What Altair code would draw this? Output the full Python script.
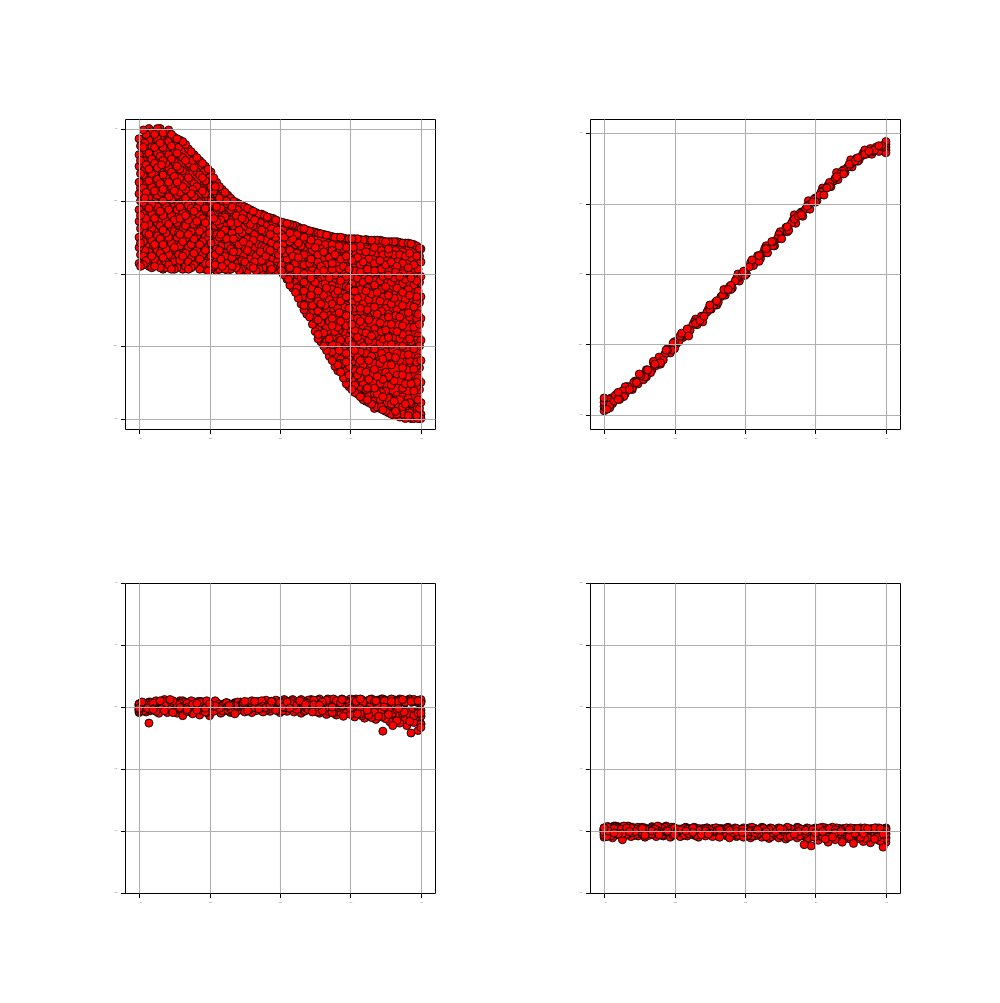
import altair as alt
import pandas as pd

P1_BAND_X = [-1,-.9,-.8,-.7,-.6,-.5,-.4,-.3,-.2,-.1,0,.05,.1,.2,.3,.4,.5,.6,.7,.8,.9,1]
P1_BAND_TOP = [.93,1,.98,.92,.815,.7,.575,.49,.435,.395,.36,.345,.333,.3,.27,.25,.243,.236,.23,.223,.21,.17]
P1_BAND_BOTTOM = [.065,.055,.045,.035,.03,.025,.022,.02,.02,.025,.03,-.02,-.11,-.3,-.49,-.645,-.785,-.87,-.92,-.97,-.99,-1]

P1_COLUMNS = [
 (-1.0,[.93,.82,.74,.63,.55,.44,.36,.25,.18,.07]),
 (-.97,[.99,.87,.78,.68,.59,.49,.41,.31,.22,.12,.06]),
 (-.93,[1.0,.92,.83,.72,.64,.52,.45,.34,.27,.15,.05]),
 (-.89,[.96,.87,.76,.69,.57,.5,.38,.29,.2,.1,.05]),
 (-.85,[1.0,.9,.81,.71,.62,.53,.43,.33,.24,.14,.04]),
 (-.81,[.97,.85,.76,.66,.55,.47,.36,.28,.17,.08,.04]),
 (-.77,[.96,.88,.79,.7,.6,.51,.4,.31,.21,.11,.03]),
 (-.73,[.93,.83,.74,.63,.54,.44,.35,.25,.15,.04]),
 (-.69,[.91,.8,.71,.6,.5,.42,.3,.22,.12,.03]),
 (-.65,[.86,.76,.66,.57,.47,.37,.27,.18,.08,.03]),
 (-.61,[.82,.73,.62,.53,.43,.34,.24,.14,.06]),
 (-.57,[.78,.68,.59,.49,.4,.29,.2,.1,.03]),
 (-.53,[.74,.64,.55,.45,.35,.26,.16,.07,.03]),
 (-.49,[.7,.6,.5,.41,.31,.21,.12,.03]),
 (-.45,[.63,.55,.46,.36,.27,.17,.09,.02]),
 (-.41,[.58,.5,.41,.32,.23,.14,.05]),
 (-.37,[.54,.46,.38,.28,.19,.1,.02]),
 (-.33,[.5,.42,.33,.24,.15,.06]),
 (-.29,[.48,.39,.3,.2,.11,.02]),
 (-.25,[.46,.37,.27,.18,.08,.02]),
 (-.21,[.44,.34,.25,.14,.05]),
 (-.17,[.42,.32,.22,.12,.02]),
 (-.13,[.41,.3,.19,.09,.02]),
 (-.09,[.39,.28,.17,.07]),
 (-.05,[.38,.26,.15,.04]),
 (-.01,[.36,.24,.13,.03]),
 (.03,[.35,.25,.14,.03,-.01]),
 (.07,[.34,.22,.1,-.02,-.08]),
 (.11,[.33,.2,.07,-.05,-.13]),
 (.15,[.31,.19,.09,-.03,-.12,-.21]),
 (.19,[.3,.17,.05,-.08,-.19,-.28]),
 (.23,[.29,.16,.04,-.1,-.22,-.35]),
 (.27,[.28,.13,.01,-.12,-.26,-.38,-.45]),
 (.31,[.27,.15,.02,-.15,-.29,-.41,-.5]),
 (.35,[.26,.11,-.03,-.18,-.33,-.45,-.57]),
 (.39,[.25,.13,-.01,-.14,-.27,-.4,-.52,-.64]),
 (.43,[.25,.1,-.05,-.19,-.33,-.46,-.59,-.68]),
 (.47,[.24,.12,-.02,-.16,-.29,-.43,-.55,-.67,-.76]),
 (.51,[.24,.09,-.07,-.2,-.35,-.49,-.61,-.73,-.8]),
 (.55,[.24,.11,-.03,-.17,-.31,-.44,-.58,-.7,-.83]),
 (.59,[.23,.08,-.06,-.21,-.36,-.5,-.63,-.76,-.87]),
 (.63,[.23,.1,-.04,-.18,-.32,-.46,-.6,-.73,-.84,-.89]),
 (.67,[.23,.07,-.08,-.23,-.38,-.52,-.66,-.79,-.91]),
 (.71,[.23,.09,-.05,-.19,-.34,-.48,-.62,-.76,-.87,-.93]),
 (.75,[.22,.06,-.09,-.24,-.39,-.54,-.68,-.81,-.95]),
 (.79,[.22,.08,-.06,-.21,-.35,-.49,-.63,-.77,-.9,-.97]),
 (.83,[.22,.05,-.1,-.25,-.4,-.55,-.7,-.84,-.97]),
 (.87,[.21,.07,-.07,-.22,-.36,-.5,-.65,-.79,-.92,-.99]),
 (.91,[.21,.04,-.11,-.27,-.42,-.56,-.71,-.86,-.98]),
 (.95,[.2,.06,-.08,-.23,-.37,-.52,-.66,-.81,-.94,-1.0]),
 (.98,[.18,.03,-.12,-.28,-.43,-.58,-.72,-.87,-1.0]),
 (1.0,[.17,.08,-.02,-.16,-.31,-.46,-.6,-.75,-.89,-.97,-1.0]),
]

P1_COLUMNS_B = [
 (-.99,[.88,.78,.69,.59,.5,.4,.31,.21,.13,.05]),
 (-.95,[.96,.85,.75,.66,.56,.47,.38,.28,.19,.09]),
 (-.91,[.98,.88,.79,.69,.6,.48,.41,.31,.23,.12,.04]),
 (-.87,[1.0,.93,.83,.73,.65,.54,.46,.35,.26,.16,.07]),
 (-.83,[.97,.87,.78,.68,.58,.5,.4,.3,.2,.11,.03]),
 (-.79,[.99,.91,.82,.73,.63,.53,.44,.34,.25,.13,.06]),
 (-.75,[.94,.85,.77,.67,.57,.48,.37,.29,.18,.08,.03]),
 (-.71,[.92,.81,.72,.66,.56,.46,.38,.27,.19,.09]),
 (-.67,[.89,.78,.69,.58,.52,.4,.33,.24,.14,.05]),
 (-.63,[.84,.74,.64,.55,.45,.39,.29,.2,.11,.04]),
 (-.59,[.8,.7,.6,.51,.45,.36,.26,.16,.08]),
 (-.55,[.76,.66,.57,.47,.38,.31,.22,.13,.05]),
 (-.51,[.72,.62,.52,.43,.33,.24,.18,.09,.02]),
 (-.47,[.66,.57,.48,.38,.29,.19,.1,.05]),
 (-.43,[.6,.52,.44,.34,.25,.16,.07,.03]),
 (-.39,[.56,.48,.39,.3,.21,.12,.03]),
 (-.35,[.52,.44,.35,.26,.17,.08,.03]),
 (-.31,[.49,.4,.31,.22,.13,.04]),
 (-.27,[.47,.38,.28,.16,.09,.03]),
 (-.23,[.45,.35,.24,.16,.06,.02]),
 (-.19,[.43,.33,.23,.13,.04]),
 (-.15,[.41,.31,.2,.1,.03]),
 (-.11,[.4,.29,.18,.08,.02]),
 (-.07,[.385,.27,.16,.06,.02]),
 (-.03,[.37,.25,.14,.05]),
 (.01,[.355,.27,.16,.06,.02]),
 (.05,[.345,.22,.1,.01,-.04]),
 (.09,[.335,.24,.12,-.01,-.1]),
 (.13,[.32,.21,.11,-.01,-.09,-.17]),
 (.17,[.31,.18,.06,-.06,-.16,-.25]),
 (.21,[.295,.2,.07,-.05,-.17,-.3]),
 (.25,[.285,.18,.07,-.06,-.19,-.31,-.4]),
 (.29,[.275,.17,.05,-.08,-.21,-.34,-.47]),
 (.33,[.265,.14,0,-.1,-.24,-.37,-.47,-.53]),
 (.37,[.255,.16,.03,-.11,-.24,-.36,-.49,-.6]),
 (.41,[.25,.12,.02,-.12,-.24,-.37,-.5,-.63,-.67]),
 (.45,[.245,.17,.05,-.09,-.12,-.23,-.36,-.4,-.52,-.62,-.72]),
 (.49,[.24,.16,.03,-.1,-.24,-.38,-.46,-.58,-.64,-.7,-.78]),
 (.53,[.24,.15,.02,-.12,-.26,-.39,-.53,-.66,-.77,-.82]),
 (.57,[.235,.16,.01,-.11,-.26,-.4,-.54,-.67,-.8,-.85]),
 (.61,[.235,.15,.03,-.12,-.26,-.41,-.55,-.68,-.8,-.88]),
 (.65,[.23,.15,0,-.14,-.29,-.43,-.57,-.7,-.82,-.9]),
 (.69,[.23,.14,.01,-.13,-.28,-.43,-.57,-.71,-.83,-.92]),
 (.73,[.225,.13,-.02,-.16,-.31,-.45,-.59,-.73,-.85,-.94]),
 (.77,[.22,.14,-.01,-.15,-.3,-.44,-.58,-.72,-.86,-.96]),
 (.81,[.22,.13,-.03,-.17,-.31,-.46,-.6,-.74,-.88,-.98]),
 (.85,[.215,.13,-.02,-.16,-.3,-.45,-.6,-.74,-.87,-.99]),
 (.89,[.21,.12,-.04,-.18,-.33,-.47,-.61,-.76,-.9,-1.0]),
 (.93,[.205,.11,-.03,-.17,-.32,-.47,-.62,-.76,-.9,-1.0]),
 (.97,[.19,.1,-.05,-.19,-.34,-.49,-.64,-.78,-.92,-.98]),
 (.99,[.175,.12,-.06,-.2,-.35,-.5,-.65,-.8,-.93,-1.0]),
]

P1_COLUMNS_C = [
 (.07,[.28,.16,.04,-.05]),
 (.12,[.27,.14,.02,-.1]),
 (.17,[.25,.13,0,-.12,-.22]),
 (.22,[.23,.1,-.03,-.15,-.27]),
 (.27,[.21,.08,-.05,-.19,-.32,-.42]),
 (.32,[.2,.06,-.07,-.22,-.35,-.48]),
 (.37,[.2,.07,-.08,-.21,-.31,-.44,-.54]),
 (.42,[.19,.03,-.09,-.27,-.39,-.53,-.62]),
 (.47,[.18,.05,-.09,-.22,-.36,-.49,-.61,-.72]),
 (.52,[.18,.04,-.12,-.24,-.42,-.55,-.67,-.78]),
 (.57,[.19,.06,-.08,-.24,-.33,-.47,-.6,-.72,-.84]),
 (.62,[.17,.03,-.1,-.25,-.39,-.53,-.67,-.79,-.87]),
 (.67,[.18,.02,-.12,-.27,-.42,-.56,-.7,-.83,-.93]),
 (.72,[.16,.03,-.11,-.26,-.4,-.55,-.69,-.82,-.92]),
 (.77,[.17,.02,-.13,-.28,-.43,-.57,-.71,-.85,-.94]),
 (.82,[.16,.01,-.14,-.29,-.44,-.58,-.73,-.87,-.95]),
 (.87,[.15,0,-.13,-.28,-.42,-.56,-.7,-.85,-.97]),
 (.92,[.14,-.01,-.15,-.3,-.45,-.6,-.74,-.89,-.96]),
 (.97,[.12,-.02,-.16,-.31,-.46,-.61,-.75,-.9,-.99]),
]

P1_COLUMNS_D = [
 (-.96,[.9,.72,.52,.33,.16]),
 (-.84,[.95,.75,.56,.37,.16]),
 (-.72,[.87,.68,.48,.28,.13]),
 (-.62,[.78,.58,.38,.21,.09]),
 (-.54,[.7,.61,.5,.42,.32,.21,.11]),
 (-.5,[.66,.56,.47,.37,.28,.15,.07]),
 (-.46,[.6,.5,.42,.33,.22,.13,.06]),
 (-.42,[.54,.45,.37,.27,.19,.1]),
 (-.38,[.5,.41,.33,.24,.14,.07]),
 (-.34,[.46,.37,.28,.2,.11,.05]),
 (-.3,[.44,.35,.25,.15,.07]),
 (-.26,[.41,.32,.22,.12,.05]),
 (-.22,[.39,.3,.2,.1,.04]),
 (-.18,[.37,.27,.18,.08]),
 (-.14,[.35,.24,.15,.05]),
 (-.1,[.33,.23,.12,.04]),
 (-.06,[.31,.21,.1,.03]),
 (-.02,[.3,.19,.08,.02]),
 (.02,[.3,.2,.09,0]),
 (.06,[.28,.17,.05,-.04]),
]

P2_X = [-1,-1,-1,-1,-.98,-.98,-.96,-.95,-.93,-.91,-.89,-.87,-.85,-.83,-.8,-.78,-.76,-.73,-.71,-.69,-.66,-.64,-.62,-.6,-.57,-.55,-.52,-.5,-.47,-.45,-.42,-.4,-.37,-.35,-.32,-.3,-.27,-.25,-.22,-.2,-.17,-.15,-.12,-.1,-.07,-.05,-.02,0,.03,.05,.08,.1,.13,.15,.18,.2,.23,.25,.28,.3,.33,.35,.38,.4,.43,.45,.48,.5,.53,.55,.58,.6,.63,.65,.68,.7,.73,.75,.78,.8,.83,.85,.88,.9,.92,.94,.96,.98,1,1,1,1]
P2_Y = [-.97,-.94,-.91,-.88,-.96,-.9,-.93,-.88,-.9,-.87,-.89,-.83,-.85,-.8,-.81,-.76,-.78,-.72,-.73,-.68,-.68,-.64,-.62,-.63,-.57,-.54,-.54,-.48,-.48,-.44,-.42,-.39,-.36,-.35,-.33,-.3,-.27,-.25,-.22,-.19,-.16,-.14,-.11,-.08,-.05,-.03,0,.02,.05,.08,.1,.13,.15,.18,.2,.23,.25,.28,.3,.335,.36,.39,.41,.44,.46,.49,.51,.54,.56,.59,.61,.65,.66,.69,.71,.74,.76,.78,.8,.825,.84,.85,.87,.875,.88,.89,.88,.9,.86,.88,.9,.92]
P2_X2 = [-.99,-.97,-.94,-.92,-.9,-.88,-.86,-.84,-.82,-.79,-.77,-.74,-.72,-.7,-.67,-.65,-.63,-.61,-.58,-.56,-.53,-.51,-.49,-.46,-.44,-.41,-.39,-.36,-.34,-.31,-.29,-.26,-.24,-.21,-.19,-.16,-.14,-.11,-.09,-.06,-.04,-.01,.01,.04,.06,.09,.11,.14,.16,.19,.21,.24,.26,.29,.31,.34,.36,.39,.41,.44,.46,.49,.51,.54,.56,.59,.61,.64,.66,.69,.71,.74,.76,.79,.81,.84,.86,.89,.91,.93,.95,.97,.99,1]
P2_Y2 = [-.95,-.89,-.92,-.86,-.89,-.84,-.87,-.8,-.82,-.77,-.77,-.72,-.75,-.68,-.7,-.63,-.65,-.59,-.61,-.54,-.56,-.49,-.5,-.44,-.45,-.39,-.4,-.34,-.36,-.3,-.3,-.25,-.25,-.2,-.2,-.15,-.15,-.09,-.1,-.03,-.05,.02,0,.08,.06,.13,.11,.18,.15,.23,.2,.28,.25,.33,.31,.38,.36,.43,.41,.48,.46,.53,.52,.58,.56,.63,.62,.68,.67,.73,.72,.78,.76,.82,.81,.86,.85,.89,.87,.9,.87,.91,.87,.94]
P2_X3 = [-.96,-.9,-.85,-.8,-.75,-.7,-.65,-.6,-.55,-.5,-.45,-.4,-.35,-.3,-.25,-.2,-.15,-.1,-.05,0,.05,.1,.15,.2,.25,.3,.35,.4,.45,.5,.55,.6,.65,.7,.75,.8,.85,.9,.95]
P2_Y3 = [-.95,-.84,-.8,-.82,-.71,-.73,-.62,-.64,-.53,-.53,-.42,-.44,-.32,-.34,-.22,-.22,-.11,-.11,0,-.01,.1,.09,.2,.2,.3,.3,.42,.42,.52,.51,.61,.62,.72,.71,.81,.8,.88,.85,.91]

P3_X = [-1,-1,-.97,-.97,-.95,-.93,-.93,-.9,-.88,-.86,-.84,-.82,-.8,-.78,-.76,-.73,-.71,-.69,-.66,-.64,-.62,-.59,-.57,-.55,-.52,-.5,-.47,-.45,-.42,-.4,-.37,-.35,-.32,-.3,-.27,-.25,-.22,-.2,-.17,-.15,-.12,-.1,-.07,-.05,-.02,0,.03,.05,.08,.1,.13,.15,.18,.2,.23,.25,.28,.3,.33,.35,.38,.4,.43,.45,.48,.5,.53,.55,.58,.6,.63,.65,.68,.7,.73,.75,.78,.8,.83,.85,.88,.9,.93,.95,.98,1,1]
P3_UP = [.05,.02,.07,.01,.06,.08,.03,.05,.1,.06,.09,.12,.07,.05,.1,.04,.06,.1,.07,.03,.09,.06,.08,.04,.1,.05,.03,.07,.02,.05,.06,.03,.07,.08,.05,.09,.06,.1,.07,.04,.09,.11,.06,.08,.1,.07,.12,.08,.1,.06,.09,.12,.08,.11,.07,.1,.13,.08,.11,.09,.13,.1,.07,.11,.09,.13,.1,.08,.12,.09,.11,.13,.1,.08,.13,.11,.09,.12,.1,.13,.08,.11,.09,.12,.1,.07,.09]
P3_LOW = [-.09,-.04,-.06,-.03,-.08,-.26,-.05,-.04,-.07,-.1,-.03,-.06,-.09,-.05,-.03,-.1,-.06,-.14,-.04,-.08,-.11,-.05,-.13,-.06,-.09,-.14,-.07,-.04,-.1,-.07,-.05,-.09,-.11,-.06,-.04,-.08,-.05,-.09,-.06,-.03,-.08,-.05,-.07,-.03,-.06,-.09,-.05,-.07,-.04,-.08,-.05,-.1,-.06,-.04,-.08,-.07,-.1,-.06,-.12,-.08,-.1,-.13,-.09,-.15,-.1,-.12,-.16,-.11,-.14,-.18,-.13,-.17,-.2,-.15,-.39,-.19,-.24,-.3,-.22,-.26,-.2,-.3,-.42,-.25,-.38,-.28,-.33]
P3_MID = [-.02,-.05,0,.03,-.02,-.04,.02,-.03,0,.03,-.01,.02,-.02,.01,-.03,.02,-.01,.03,-.03,.01,.04,-.02,.01,-.01,.02,-.03,.01,-.02,.02,-.01,.01,-.03,.02,0,.03,-.01,.02,0,-.02,.03,.01,-.01,.02,0,.03,.01,-.01,.03,0,.02,-.02,.01,.04,0,.02,-.02,.03,0,.04,-.01,.02,-.03,.01,-.04,.03,-.02,.02,-.05,.01,-.03,.03,-.06,0,-.04,.02,-.07,-.02,-.1,-.05,-.12,-.08,-.13,-.06,-.14,-.1,-.15,-.05]
P3_Y2 = [.04,-.07,.08,-.05,.03,-.06,.06,-.08,.02,.09,-.04,.05,-.09,.07,-.03,.08,-.07,.02,-.05,.09,.01,-.08,.06,-.04,.08,-.02,-.06,.07,-.07,.04,-.05,.08,-.03,-.06,.06,-.02,.09,-.06,.04,-.03,.09,-.05,.07,-.06,.1,-.02,.08,-.04,.1,-.07,.06,-.03,.11,-.08,.07,-.02,.12,-.09,.08,-.04,.12,-.1,.09,-.06,.13,-.11,.07,-.13,.12,-.08,.1,-.16,.11,-.12,.09,-.2,.1,-.16,.08,-.23,.11,-.18,.07,-.27,.09]

P4_X = [-1,-1,-.98,-.96,-.94,-.92,-.9,-.87,-.85,-.83,-.81,-.78,-.76,-.73,-.71,-.68,-.66,-.63,-.61,-.58,-.56,-.53,-.51,-.48,-.46,-.43,-.41,-.38,-.36,-.33,-.31,-.28,-.26,-.23,-.21,-.18,-.16,-.13,-.11,-.08,-.06,-.03,-.01,.02,.04,.07,.09,.12,.14,.17,.19,.22,.24,.27,.29,.32,.34,.37,.39,.42,.44,.47,.49,.52,.54,.57,.59,.62,.64,.67,.69,.72,.74,.77,.79,.82,.84,.87,.89,.92,.94,.96,.98,1,1]
P4_UP = [.05,.02,.07,.03,.06,.08,.04,.07,.03,.08,.05,.02,.06,.04,.03,.02,.05,.02,.07,.03,.08,.04,.06,.02,.03,.05,.03,.02,.06,.04,.02,.03,.01,.04,.05,.02,.03,.05,.01,.03,.04,.02,.05,.03,.01,.04,.02,.06,.03,.02,.04,.01,.05,.03,.02,.04,.01,.06,.03,.02,.05,.03,.01,.04,.02,.05,.03,.06,.02,.04,.03,.05,.02,.04,.03,.05,.02,.04,.03,.05,.02,.04,.03,.05,.02]
P4_LOW = [-.1,-.05,-.09,-.06,-.11,-.07,-.05,-.14,-.07,-.05,-.09,-.06,-.08,-.05,-.1,-.07,-.05,-.09,-.06,-.08,-.05,-.1,-.07,-.05,-.09,-.06,-.08,-.05,-.07,-.1,-.06,-.08,-.05,-.09,-.07,-.1,-.06,-.08,-.11,-.07,-.09,-.06,-.1,-.07,-.11,-.08,-.06,-.1,-.07,-.12,-.09,-.07,-.11,-.08,-.13,-.09,-.06,-.11,-.08,-.22,-.13,-.24,-.1,-.15,-.09,-.13,-.18,-.1,-.14,-.09,-.18,-.12,-.09,-.2,-.13,-.1,-.17,-.11,-.19,-.13,-.1,-.16,-.26,-.12,-.18]
P4_MID = [-.02,.01,-.03,0,-.02,-.01,0,-.04,-.02,.01,-.03,-.01,0,-.02,-.04,-.01,0,-.03,-.01,-.02,0,-.03,-.01,0,-.02,-.04,-.01,-.02,0,-.03,-.02,0,-.03,-.01,0,-.03,-.01,-.02,0,-.03,-.01,-.02,-.04,0,-.02,-.03,-.01,-.02,0,-.04,-.02,-.01,-.03,0,-.02,-.04,-.02,-.01,-.03,-.05,-.01,-.03,-.04,-.02,0,-.03,-.05,-.01,-.03,-.04,-.02,-.05,-.01,-.03,-.05,-.02,-.04,-.05,-.01,-.04,-.03,-.06,-.02,-.04,-.05]
P4_Y2 = [.03,-.07,.06,-.04,-.08,.04,-.03,.06,-.06,.02,-.05,.07,-.08,.03,-.04,.06,-.07,.01,-.05,.05,-.03,-.07,.04,-.02,.06,-.06,.02,-.08,.03,-.04,.05,-.07,.01,-.03,.05,-.06,.02,-.08,.04,-.02,.06,-.05,.01,-.07,.03,-.03,.05,-.08,.02,-.04,.05,-.09,.01,-.03,.04,-.07,.03,-.1,.02,-.05,.04,-.08,.01,-.11,.03,-.06,.05,-.09,.02,-.12,.04,-.07,.03,-.1,.01,-.13,.04,-.08,.02,-.12,.03,-.09,.05,-.15,.02,-.1,.04]

X_TICKS = [-1, -.5, 0, .5, 1]
Y_TICKS_TOP = [-1, -.5, 0, .5, 1]
Y_TICKS_BOTTOM_LEFT = [-3, -2, -1, 0, 1, 2]
Y_TICKS_BOTTOM_RIGHT = [-1, 0, 1, 2, 3, 4]
POINT_FILL = "red"
FRAME = 310


def axis(values, fmt, edges=None):
    # grid lines lying on the frame are hidden, so the black frame stays visible
    grid_opacity = 1
    if edges:
        grid_opacity = {"condition": {"test": f"datum.value == {edges[0]} || datum.value == {edges[1]}", "value": 0}, "value": 1}
    return alt.Axis(values=values, format=fmt, grid=True, gridColor="#b0b0b0", gridWidth=1.1,
                    gridOpacity=grid_opacity,
                    domain=False, ticks=True, tickColor="black", tickWidth=1, tickSize=4.5,
                    labelFontSize=1.5, labelColor="black", labelPadding=4, title=None,
                    labelFont="DejaVu Sans", zindex=1, labelOverlap=False, labelFlush=False,
                    minExtent=12, maxExtent=12)


def panel(pairs, y_domain, y_ticks, y_fmt, band=None, edges=None):
    # draw order only: scatter the rows so that no sweep of overlap shows
    n = len(pairs)
    order = sorted(range(n), key=lambda i: (i * i * 7 + i * 13) % n)
    pairs = [pairs[i] for i in order]
    x_enc = alt.X("x:Q", scale=alt.Scale(domain=[-1.1, 1.1], nice=False, zero=False),
                  axis=axis(X_TICKS, ".1f"))
    y_enc = alt.Y("y:Q", scale=alt.Scale(domain=y_domain, nice=False, zero=False),
                  axis=axis(y_ticks, y_fmt, edges))
    pts = alt.Chart(pd.DataFrame(pairs, columns=["x", "y"])).mark_point(
        filled=False, shape="circle", size=64, fill=POINT_FILL, fillOpacity=1,
        stroke="black", strokeWidth=0.9, opacity=1, clip=False
    ).encode(x=x_enc, y=y_enc)
    if band is None:
        return pts.properties(width=FRAME, height=FRAME)
    area = alt.Chart(pd.DataFrame(band)).mark_area(color=POINT_FILL, opacity=1).encode(
        x=x_enc, y=y_enc, y2="y2:Q")
    return alt.layer(area, pts).properties(width=FRAME, height=FRAME)


p1_pairs = []
for cx, col in P1_COLUMNS + P1_COLUMNS_B + P1_COLUMNS_C + P1_COLUMNS_D:
    p1_pairs += [(cx, v) for v in col]

a = panel(p1_pairs, [-1.072, 1.066], Y_TICKS_TOP, ".1f",
          band={"x": P1_BAND_X, "y": P1_BAND_TOP, "y2": P1_BAND_BOTTOM})
b = panel(list(zip(P2_X, P2_Y)) + list(zip(P2_X2, P2_Y2)) + list(zip(P2_X3, P2_Y3)),
          [-1.1, 1.1], Y_TICKS_TOP, ".1f")
c = panel(list(zip(P3_X, P3_MID)) + list(zip(P3_X, P3_UP)) + list(zip(P3_X, P3_LOW)) + list(zip(P4_X, P3_Y2))
          + list(zip(P4_X, P3_UP)) + list(zip(P4_X, P3_MID)),
          [-3, 2], Y_TICKS_BOTTOM_LEFT, ".1f", edges=(-3, 2))
d = panel(list(zip(P4_X, P4_MID)) + list(zip(P4_X, P4_UP)) + list(zip(P4_X, P4_LOW)) + list(zip(P3_X, P4_Y2))
          + list(zip(P3_X, P4_UP)) + list(zip(P3_X, P4_MID)),
          [-1, 4], Y_TICKS_BOTTOM_RIGHT, ".1f", edges=(-1, 4))

chart = alt.vconcat(
    alt.hconcat(a, b, spacing=141),
    alt.hconcat(c, d, spacing=141),
    spacing=139,
).properties(
    padding={"left": 104, "top": 110, "right": 10, "bottom": 10}
).configure_view(stroke="black", strokeWidth=1)

chart.save("out.html", embed_options={"renderer": "svg", "actions": False})
